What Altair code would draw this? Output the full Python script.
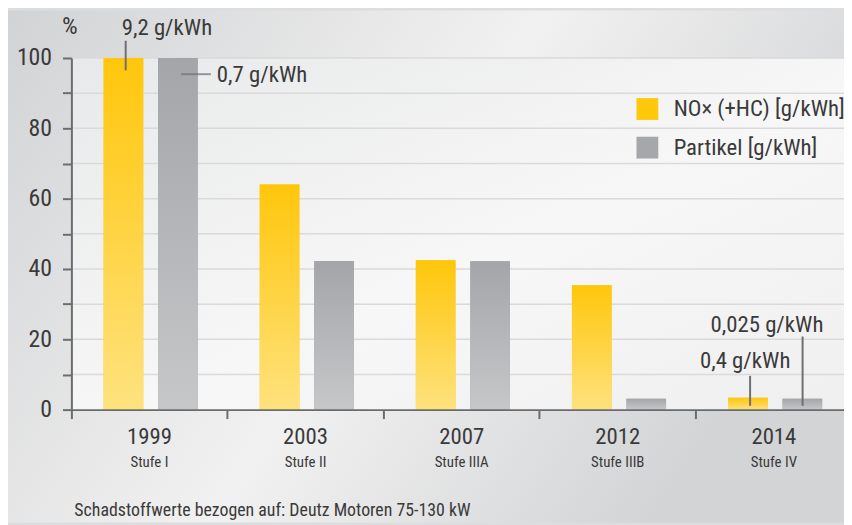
import altair as alt
import pandas as pd

# ---------------- data ----------------
years = ["1999", "2003", "2007", "2012", "2014"]
stages = ["Stufe I", "Stufe II", "Stufe IIIA", "Stufe IIIB", "Stufe IV"]
series_names = ["NO× (+HC) [g/kWh]", "Partikel [g/kWh]"]
nox_pct = [100, 64.0, 42.5, 35.4, 3.4]
partikel_pct = [100, 42.3, 42.2, 3.1, 3.1]
grid_values = [10, 20, 30, 40, 50, 60, 70, 80, 90, 100]
ann_labels = ["9,2 g/kWh", "0,7 g/kWh", "0,4 g/kWh", "0,025 g/kWh"]
footer = "Schadstoffwerte bezogen auf: Deutz Motoren 75-130 kW"

# ---------------- layout ----------------
FONT = "Liberation Sans Narrow, Roboto Condensed, DejaVu Sans Condensed, Arial Narrow, sans-serif"
TXT = "#3a3a3a"
AX = "#6b6c6e"
W, H = 780, 355
PL, PT, PB = 64, 48, 114
XRANGE = 788

rows = []
for y, s, n, p in zip(years, stages, nox_pct, partikel_pct):
    rows.append({"year": y, "stage": s, "series": series_names[0], "value": n})
    rows.append({"year": y, "stage": s, "series": series_names[1], "value": p})
bars = pd.DataFrame(rows)
labels_df = pd.DataFrame({"year": years, "stage": stages})

x_scale = alt.Scale(domain=years, range=[0, XRANGE], paddingInner=0, paddingOuter=0)
x_axis = alt.Axis(bandPosition=0, labels=False, ticks=True, tickSize=9, tickWidth=2,
                  tickColor=AX, domainColor=AX, domainWidth=2, grid=False, zindex=1)
y_scale = alt.Scale(domain=[0, 100], nice=False)
y_axis = alt.Axis(values=list(range(0, 101, 10)),
                  labelExpr="datum.value % 20 == 0 ? datum.label : ''",
                  tickSize=9, tickWidth=2, tickColor=AX, domainColor=AX, domainWidth=2,
                  labelFontSize=24, labelColor=TXT, labelFont=FONT, labelPadding=11,
                  grid=False,
                  title="%", titleAngle=0, titleX=-2, titleY=-25, titleAlign="center",
                  titleBaseline="alphabetic", titleFontSize=25, titleFontWeight="normal",
                  titleColor=TXT, titleFont=FONT, zindex=1)


def xenc():
    return alt.X("year:N", scale=x_scale, axis=x_axis, title=None)


def yenc(field):
    return alt.Y(f"{field}:Q", scale=y_scale, axis=y_axis, title="%")


def grad(c0, c1, x2=0, y2=1, mid=None):
    stops = [alt.GradientStop(offset=0, color=c0)]
    if mid:
        stops.append(alt.GradientStop(offset=0.55, color=mid))
    stops.append(alt.GradientStop(offset=1, color=c1))
    return alt.LinearGradient(gradient="linear", x1=0, y1=0, x2=x2, y2=y2, stops=stops)


xoff = alt.XOffset("series:N", scale=alt.Scale(domain=series_names, paddingInner=0.2727,
                                               paddingOuter=0.569, align=0.52))

yellow_grad = grad("#ffc60b", "#fee27e")
gray_grad = grad("#a4a5a8", "#c6c7c9")

one = pd.DataFrame({"k": [0]})
outer_bg = alt.Chart(one).mark_rect(color=grad("#d2d3d5", "#d3d4d6", x2=1, y2=0.4, mid="#f1f1f1")).encode(
    x=alt.value(-PL), x2=alt.value(W + 8), y=alt.value(-PT), y2=alt.value(H + PB))
plot_bg = alt.Chart(one).mark_rect(color=grad("#e8e9ea", "#efeff0", x2=1, y2=1, mid="#f7f7f7")).encode(
    x=alt.value(0), x2=alt.value(W + 8), y=alt.value(0), y2=alt.value(H))
grid = alt.Chart(pd.DataFrame({"g": grid_values})).mark_rule(color="#dadada", strokeWidth=1.5).encode(
    y=yenc("g"), x=alt.value(0), x2=alt.value(W + 8))

base_bars = alt.Chart(bars).mark_bar().encode(
    x=xenc(), xOffset=xoff, y=yenc("value"),
    color=alt.Color("series:N", scale=alt.Scale(domain=series_names, range=["#ffc80a", "#a6a7aa"]),
                    legend=alt.Legend(orient="none", legendX=570, legendY=40, title=None,
                                      symbolType="square", symbolSize=484, symbolStrokeWidth=0,
                                      labelFontSize=23, labelFont=FONT, labelColor=TXT,
                                      labelLimit=400, rowPadding=15, labelOffset=15, padding=0)),
)
yellow_bars = alt.Chart(bars).transform_filter(
    alt.datum.series == series_names[0]).mark_bar(color=yellow_grad).encode(
    x=xenc(), xOffset=xoff, y=yenc("value"))
gray_bars = alt.Chart(bars).transform_filter(
    alt.datum.series == series_names[1]).mark_bar(color=gray_grad).encode(
    x=xenc(), xOffset=xoff, y=yenc("value"))

layers = [outer_bg, plot_bg, grid, base_bars, yellow_bars, gray_bars]

# annotation layout: pixel offsets from the band centre of the year
ann_spec = [
    dict(i=0, year="1999", tdx=-28, ty=106.6, align="left", baseline="alphabetic",
         kind="v", ldx=-24, l1=104.9, l2=96.5),
    dict(i=1, year="1999", tdx=68, ty=95.4, align="left", baseline="middle",
         kind="h", ldx=47, l1=95.4, size=30),
    dict(i=2, year="2014", tdx=-29, ty=11.8, align="center", baseline="alphabetic",
         kind="v", ldx=-24, l1=9.6, l2=1.1),
    dict(i=3, year="2014", tdx=-7, ty=22.2, align="center", baseline="alphabetic",
         kind="v", ldx=29, l1=20.8, l2=1.1),
]
for a in ann_spec:
    tdf = pd.DataFrame([{"year": a["year"], "ty": a["ty"], "label": ann_labels[a["i"]]}])
    layers.append(alt.Chart(tdf).mark_text(align=a["align"], baseline=a["baseline"], fontSize=23,
                                           font=FONT, color=TXT, dx=a["tdx"],
                                           dy=1 if a["baseline"] == "middle" else 0)
                  .encode(x=xenc(), y=yenc("ty"), text="label:N"))
    if a["kind"] == "v":
        ldf = pd.DataFrame([{"year": a["year"], "l1": a["l1"], "l2": a["l2"]}])
        layers.append(alt.Chart(ldf).mark_rule(color="#6e6f71", strokeWidth=2, xOffset=a["ldx"])
                      .encode(x=xenc(), y=yenc("l1"), y2="l2:Q"))
    else:
        ldf = pd.DataFrame([{"year": a["year"], "l1": a["l1"]}])
        layers.append(alt.Chart(ldf).mark_tick(orient="horizontal", size=a["size"], thickness=2,
                                               color="#6e6f71", xOffset=a["ldx"])
                      .encode(x=xenc(), y=yenc("l1")))

year_text = alt.Chart(labels_df).mark_text(fontSize=23, font=FONT, color=TXT, baseline="alphabetic").encode(
    x=xenc(), y=alt.value(H + 35), text="year:N")
stage_text = alt.Chart(labels_df).mark_text(fontSize=15, font=FONT, color=TXT, baseline="alphabetic").encode(
    x=xenc(), y=alt.value(H + 58), text="stage:N")
footer_text = alt.Chart(pd.DataFrame({"t": [footer]})).mark_text(
    fontSize=18, font=FONT, color=TXT, align="left", baseline="alphabetic").encode(
    x=alt.value(3), y=alt.value(H + 107), text="t:N")
layers += [year_text, stage_text, footer_text]

chart = alt.layer(*layers).properties(
    width=W, height=H,
    autosize=alt.AutoSizeParams(type="none"),
    padding={"left": PL, "top": PT, "right": 0, "bottom": PB},
    background="#dcdddf",
).configure_view(strokeOpacity=0)

chart.save("out.html", embed_options={"renderer": "svg", "actions": False})
